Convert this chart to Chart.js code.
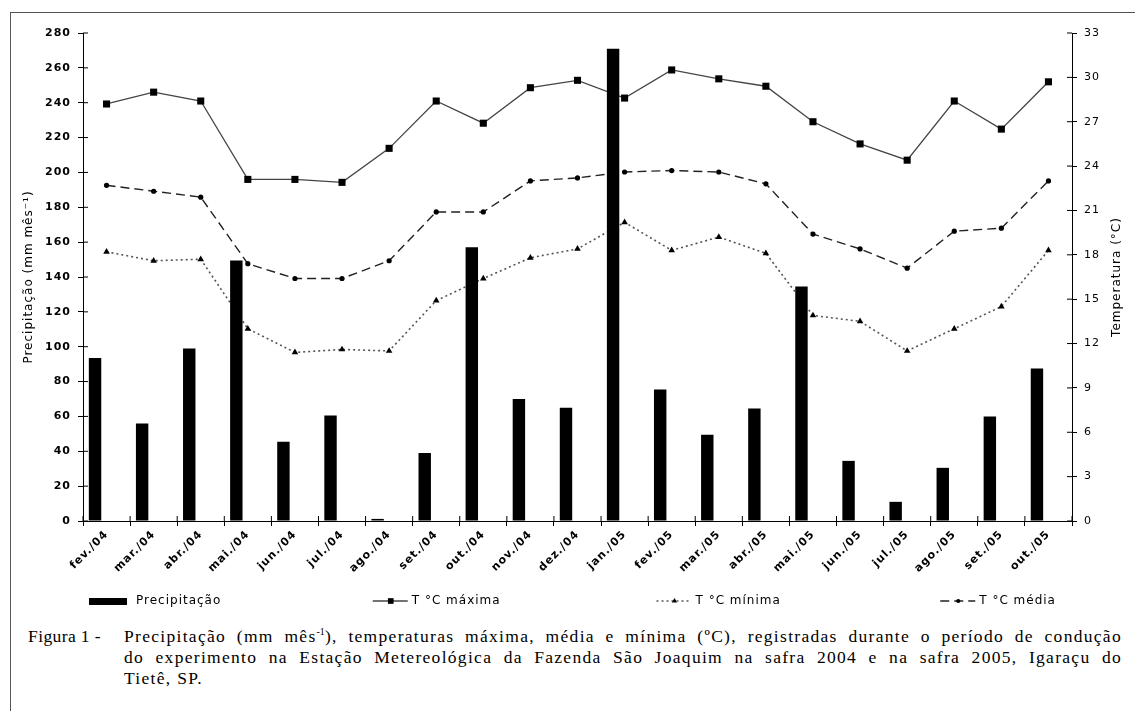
<!DOCTYPE html>
<html>
<head>
<meta charset="utf-8">
<script src="https://cdn.jsdelivr.net/npm/chart.js@4/dist/chart.umd.min.js"></script>
<style>
  body { margin: 0; background: #fff; }
  #page { position: relative; width: 1135px; height: 711px; overflow: hidden; }
  #frame { position: absolute; left: 10px; top: 12px; width: 1200px; height: 800px;
           border-left: 1.5px solid #555; border-top: 1.5px solid #555; }
  #wrap { position: absolute; left: 0; top: 0; width: 1135px; height: 625px; }
  #cap { position: absolute; left: 28px; top: 626px; width: 1094px; display: flex;
         font-family: "Liberation Serif", "Times New Roman", serif; font-size: 17.5px;
         line-height: 21px; letter-spacing: 1.3px; color: #000; }
  #cap .lab { width: 96px; flex: none; white-space: nowrap; letter-spacing: 0.4px; }
  #cap .txt { flex: 1; }
  #cap .j { text-align: justify; text-align-last: justify; }
  #cap sup { font-size: 10px; line-height: 0; letter-spacing: 0; }
</style>
</head>
<body>
<div id="page">
  <div id="frame"></div>
  <div id="wrap"><canvas id="grafico"></canvas></div>
  <div id="cap">
    <div class="lab">Figura 1 -</div>
    <div class="txt">
      <div class="j">Precipitação (mm mês<sup>-1</sup>), temperaturas máxima, média e mínima (ºC), registradas durante o período de condução</div>
      <div class="j">do experimento na Estação Metereológica da Fazenda São Joaquim na safra 2004 e na safra 2005, Igaraçu do</div>
      <div>Tietê, SP.</div>
    </div>
  </div>
</div>
<script>
const meses = ['fev./04', 'mar./04', 'abr./04', 'mai./04', 'jun./04', 'jul./04', 'ago./04',
  'set./04', 'out./04', 'nov./04', 'dez./04', 'jan./05', 'fev./05', 'mar./05', 'abr./05',
  'mai./05', 'jun./05', 'jul./05', 'ago./05', 'set./05', 'out./05'];

// mm mes-1 (eixo esquerdo)
const precipitacao = [93.5, 56, 99, 149.5, 45.5, 60.5, 1.2, 39, 157, 70, 65, 271,
  75.5, 49.5, 64.5, 134.5, 34.5, 11, 30.5, 60, 87.5];

// graus C (eixo direito)
const tMaxima = [28.2, 29.0, 28.4, 23.1, 23.1, 22.9, 25.2, 28.4, 26.9, 29.3, 29.8, 28.6,
  30.5, 29.9, 29.4, 27.0, 25.5, 24.4, 28.4, 26.5, 29.7];
const tMedia = [22.7, 22.3, 21.9, 17.4, 16.4, 16.4, 17.6, 20.9, 20.9, 23.0, 23.2, 23.6,
  23.7, 23.6, 22.8, 19.4, 18.4, 17.1, 19.6, 19.8, 23.0];
const tMinima = [18.2, 17.6, 17.7, 13.0, 11.4, 11.6, 11.5, 14.9, 16.4, 17.8, 18.4, 20.2,
  18.3, 19.2, 18.1, 13.9, 13.5, 11.5, 13.0, 14.5, 18.3];

const eixoPrec = { min: 0, max: 280, passo: 20 };
const eixoTemp = { min: 0, max: 33, passo: 3 };

const fonte = 'DejaVu Sans';

const legenda = [
  { texto: 'Precipitação', ds: 0 },
  { texto: 'T °C máxima', ds: 2 },
  { texto: 'T °C mínima', ds: 3 },
  { texto: 'T °C média', ds: 4 }
];

// desenha metade interna dos tracos, titulo do eixo direito e legenda
const extras = {
  id: 'extras',
  beforeUpdate(chart) { chart.ctx.letterSpacing = '1px'; },
  beforeDraw(chart) { chart.ctx.letterSpacing = '1px'; },
  afterDraw(chart) {
    const ctx = chart.ctx;
    const { left, right, top, bottom } = chart.chartArea;
    const yL = chart.scales.y, yR = chart.scales.y1, x = chart.scales.x;
    ctx.save();
    ctx.strokeStyle = '#000';
    ctx.lineWidth = 1;
    ctx.beginPath();
    yL.ticks.forEach((t, i) => { const p = yL.getPixelForTick(i); ctx.moveTo(left, p); ctx.lineTo(left + 5, p); });
    yR.ticks.forEach((t, i) => { const p = yR.getPixelForTick(i); ctx.moveTo(right, p); ctx.lineTo(right - 5, p); });
    for (let i = 0; i <= meses.length; i++) {
      const p = x.getPixelForValue(i - 0.5);
      ctx.moveTo(p, bottom); ctx.lineTo(p, bottom - 5);
    }
    ctx.stroke();

    // titulo eixo direito (lido de baixo para cima)
    ctx.fillStyle = '#000';
    ctx.font = '12px "' + fonte + '"';
    ctx.textAlign = 'center';
    ctx.textBaseline = 'middle';
    ctx.save();
    ctx.translate(chart.width - 18, (top + bottom) / 2);
    ctx.rotate(-Math.PI / 2);
    ctx.fillText('Temperatura (°C)', 0, 0);
    ctx.restore();

    // legenda
    const ly = bottom + 80;
    ctx.textAlign = 'left';
    legenda.forEach((item, k) => {
      const x0 = left + 6 + k * chart.width / 4;
      const ds = chart.data.datasets[item.ds];
      if (item.ds === 0) {
        ctx.fillStyle = '#000';
        ctx.fillRect(x0, ly - 3, 38, 7);
        ctx.fillText(item.texto, x0 + 47, ly);
        return;
      }
      ctx.save();
      ctx.strokeStyle = ds.borderColor;
      ctx.lineWidth = ds.borderWidth;
      ctx.setLineDash(ds.borderDash || []);
      ctx.beginPath();
      ctx.moveTo(x0, ly); ctx.lineTo(x0 + 35, ly);
      ctx.stroke();
      ctx.setLineDash([]);
      ctx.fillStyle = '#000';
      ctx.strokeStyle = '#000';
      Chart.helpers.drawPoint(ctx, { pointStyle: ds.pointStyle, radius: ds.pointRadius * 0.8, rotation: 0, borderWidth: 0 }, x0 + 18, ly);
      ctx.restore();
      ctx.fillStyle = '#000';
      ctx.fillText(item.texto, x0 + 39, ly);
    });
    ctx.restore();
  }
};

new Chart(document.getElementById('grafico'), {
  type: 'bar',
  data: {
    labels: meses,
    datasets: [
      {
        label: 'Precipitação', data: precipitacao, yAxisID: 'y',
        backgroundColor: '#000', borderWidth: 0,
        categoryPercentage: 0.977, barPercentage: 0.54
      },
      {
        // vaga vazia do grupo: desloca a barra para a esquerda como no original
        label: '', data: meses.map(() => null), yAxisID: 'y',
        categoryPercentage: 0.977, barPercentage: 0.54
      },
      {
        type: 'line', label: 'T °C máxima', data: tMaxima, yAxisID: 'y1',
        borderColor: '#444', borderWidth: 1.3, pointStyle: 'rect', pointRadius: 5,
        pointBackgroundColor: '#000', pointBorderWidth: 0
      },
      {
        type: 'line', label: 'T °C mínima', data: tMinima, yAxisID: 'y1',
        borderColor: '#555', borderWidth: 1.6, borderDash: [2, 3], pointStyle: 'triangle',
        pointRadius: 3.8, pointBackgroundColor: '#000', pointBorderWidth: 0
      },
      {
        type: 'line', label: 'T °C média', data: tMedia, yAxisID: 'y1',
        borderColor: '#222', borderWidth: 1.4, borderDash: [9, 5], pointStyle: 'circle',
        pointRadius: 2.6, pointBackgroundColor: '#000', pointBorderWidth: 0
      }
    ]
  },
  options: {
    responsive: true,
    maintainAspectRatio: false,
    animation: false,
    events: [],
    layout: { padding: { left: 0, right: 0, top: 33, bottom: 44 } },
    plugins: { legend: { display: false }, tooltip: { enabled: false } },
    scales: {
      x: {
        offset: true,
        grid: { offset: true, drawOnChartArea: false, tickLength: 5, color: '#000' },
        border: { color: '#000', width: 1 },
        ticks: {
          autoSkip: false, minRotation: 45, maxRotation: 45, padding: 2, color: '#000',
          font: { family: fonte, size: 11, weight: 'bold' }
        },
        afterFit(s) { s.height = 60; }
      },
      y: {
        position: 'left',
        min: eixoPrec.min, max: eixoPrec.max,
        grid: { drawOnChartArea: false, tickLength: 5, color: '#000' },
        border: { color: '#000', width: 1 },
        ticks: {
          stepSize: eixoPrec.passo, padding: 7, color: '#000',
          font: { family: fonte, size: 11, weight: 'bold' }
        },
        title: {
          display: true, text: 'Precipitação (mm mês⁻¹)', color: '#000',
          font: { family: fonte, size: 12 }, padding: { top: 22, bottom: 0 }
        },
        afterFit(s) { s.width = 83; }
      },
      y1: {
        position: 'right',
        min: eixoTemp.min, max: eixoTemp.max,
        grid: { drawOnChartArea: false, tickLength: 5, color: '#000' },
        border: { color: '#000', width: 1 },
        ticks: {
          stepSize: eixoTemp.passo, padding: 7, color: '#000',
          font: { family: fonte, size: 11 }
        },
        afterFit(s) { s.width = 63; }
      }
    }
  },
  plugins: [extras]
});
</script>
</body>
</html>
